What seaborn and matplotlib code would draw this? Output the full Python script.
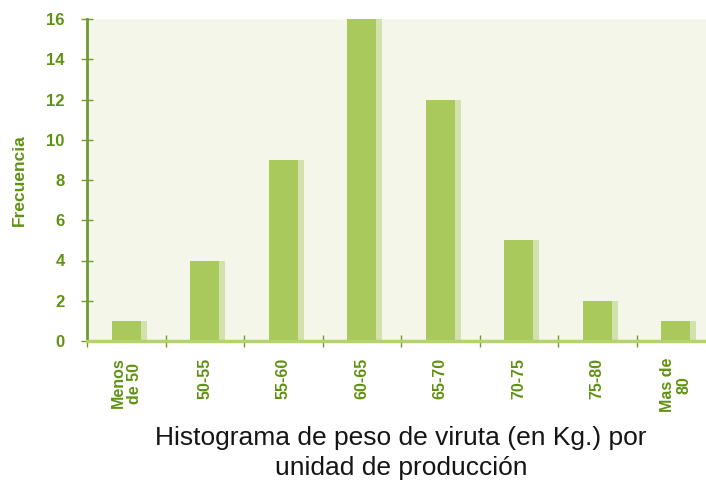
import matplotlib
matplotlib.use("Agg")
import matplotlib.pyplot as plt
import seaborn as sns
import pandas as pd

categories = ["Menos\nde 50", "50-55", "55-60", "60-65", "65-70", "70-75", "75-80", "Mas de\n80"]
frecuencia = [1, 4, 9, 16, 12, 5, 2, 1]
yticks = [0, 2, 4, 6, 8, 10, 12, 14, 16]

sns.set_style("white")
plt.rcParams['font.family'] = ['Liberation Sans', 'DejaVu Sans']

df = pd.DataFrame({"cat": categories, "freq": frecuencia})

fig = plt.figure(figsize=(7.06, 4.88), dpi=100)
ax = fig.add_axes([87/706, 1 - 341/488, (715 - 87)/706, (341 - 19)/488])
ax.set_facecolor("#f4f6ea")

green_text = "#5f9212"
axis_col = "#6f9a30"

# soft shadow to the right of each bar
ax.bar([i + 0.07 for i in range(len(categories))], frecuencia, width=0.38,
       color="#d3e2ad", zorder=1, linewidth=0)
sns.barplot(data=df, x="cat", y="freq", color="#a9c95c", saturation=1,
            width=0.37, ax=ax, zorder=2, linewidth=0)

ax.set_xlim(-0.5, len(categories) - 0.5)
ax.set_ylim(0, 16)
ax.set_yticks(yticks)
ax.set_yticklabels([str(v) for v in yticks], fontsize=12, fontweight="bold", color=green_text)
ax.set_xticks(range(len(categories)))
ax.set_xticklabels(categories, rotation=90, fontsize=11.5, fontweight="bold",
                   color=green_text, va="top", ha="center", multialignment="center",
                   linespacing=1.1)
ax.set_xticks([i - 0.5 for i in range(len(categories))], minor=True)
ax.tick_params(axis="x", which="major", bottom=True, length=0, pad=12)
ax.tick_params(axis="x", which="minor", bottom=True, length=8, width=1, color=axis_col,
               direction="inout")
ax.tick_params(axis="y", left=True, length=8, width=1, color=axis_col, direction="inout", pad=12)

for s in ["top", "right"]:
    ax.spines[s].set_visible(False)
ax.spines["left"].set_color(axis_col)
ax.spines["left"].set_linewidth(2)
ax.spines["bottom"].set_color("#b5d36a")
ax.spines["bottom"].set_linewidth(2.5)

ax.set_ylabel("Frecuencia", fontsize=12.5, fontweight="bold", color=green_text, labelpad=14)
ax.set_xlabel("Histograma de peso de viruta (en Kg.) por\nunidad de producción",
              fontsize=19, color="#151515", labelpad=10, linespacing=1.3)

fig.savefig("out.png", dpi=100)
